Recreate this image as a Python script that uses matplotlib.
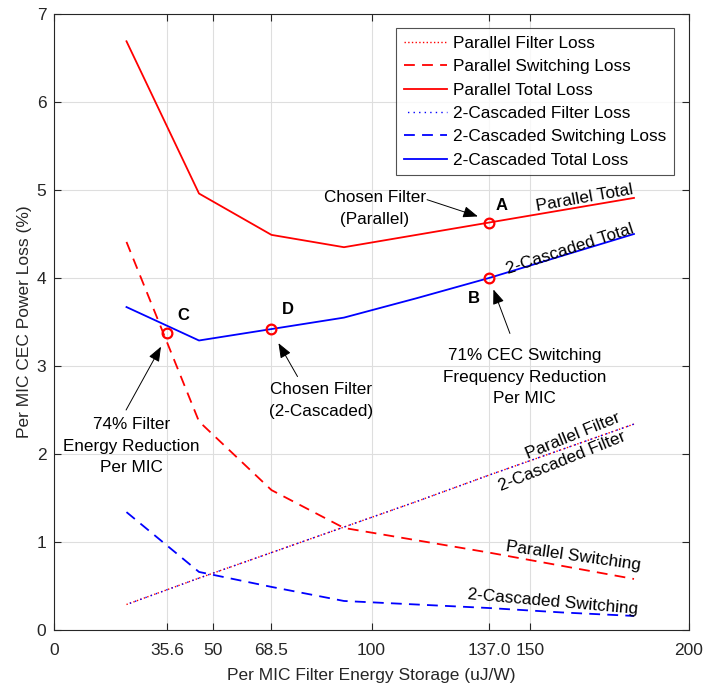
import matplotlib
matplotlib.use("Agg")
import matplotlib.pyplot as plt

plt.rcParams['font.family'] = ['Liberation Sans', 'DejaVu Sans']

# Filter energy storage per MIC (uJ/W)
energy = [22.83, 45.67, 68.5, 91.33, 114.17, 137.0, 159.83, 182.67]

par_filter = [0.29, 0.59, 0.88, 1.17, 1.46, 1.76, 2.05, 2.34]
par_switch = [4.41, 2.37, 1.59, 1.16, 1.02, 0.88, 0.73, 0.58]
par_total = [6.69, 4.96, 4.49, 4.35, 4.49, 4.63, 4.77, 4.91]

cas_filter = [0.29, 0.59, 0.88, 1.17, 1.46, 1.76, 2.05, 2.34]
cas_switch = [1.34, 0.66, 0.49, 0.33, 0.29, 0.25, 0.20, 0.16]
cas_total = [3.67, 3.29, 3.42, 3.55, 3.77, 4.00, 4.25, 4.50]

xticks = [0, 35.6, 50, 68.5, 100, 137.0, 150, 200]
xticklabels = ['0', '35.6', '50', '68.5', '100', '137.0', '150', '200']
yticks = [0, 1, 2, 3, 4, 5, 6, 7]

# Highlighted design points
pt_labels = ['A', 'B', 'C', 'D']
pt_x = [137.0, 137.0, 35.6, 68.5]
pt_y = [4.63, 4.00, 3.38, 3.42]

fig = plt.figure(figsize=(7.04, 6.86), dpi=100)
ax = fig.add_axes([0.0767, 0.0816, 0.902, 0.898])

lw = 1.3
ax.plot(energy, par_filter, color='red', ls=':', lw=1.0, label='Parallel Filter Loss')
ax.plot(energy, par_switch, color='red', ls=(0, (6, 4)), lw=lw, label='Parallel Switching Loss')
ax.plot(energy, par_total, color='red', ls='-', lw=lw, label='Parallel Total Loss')
ax.plot(energy, cas_filter, color='blue', ls=(1.5, (1, 3)), lw=1.0, label='2-Cascaded Filter Loss')
ax.plot(energy, cas_switch, color='blue', ls=(0, (6, 4)), lw=lw, label='2-Cascaded Switching Loss')
ax.plot(energy, cas_total, color='blue', ls='-', lw=lw, label='2-Cascaded Total Loss')

ax.plot(pt_x, pt_y, ls='none', marker='o', ms=7, mfc='none', mec='red', mew=1.6, zorder=5)

ax.set_xlim(0, 200)
ax.set_ylim(0, 7)
ax.set_xticks(xticks)
ax.set_xticklabels(xticklabels)
ax.set_yticks(yticks)
ax.tick_params(direction='in', top=True, right=True, labelsize=12.5,
               colors='#262626', length=5, width=0.8)
ax.tick_params(axis='x', pad=9.5)
ax.tick_params(axis='y', pad=5.5)
for s in ax.spines.values():
    s.set_color('#262626')
    s.set_linewidth(0.8)
ax.grid(True, color='#dedede', lw=0.8)
ax.set_axisbelow(True)
ax.set_xlabel('Per MIC Filter Energy Storage (uJ/W)', fontsize=12.5, color='#262626',
              labelpad=7)
ax.set_ylabel('Per MIC CEC Power Loss (%)', fontsize=12.5, color='#262626', labelpad=3)

leg = ax.legend(loc='upper right', bbox_to_anchor=(0.976, 0.977), borderaxespad=0,
                fontsize=12.4, frameon=True, fancybox=False, edgecolor='#262626',
                handlelength=2.5, borderpad=0.45, labelspacing=0.48, handletextpad=0.35)
leg.get_frame().set_linewidth(0.8)

# Point letters
letter_off = {'A': (9, 12), 'B': (-11, -15), 'C': (12, 12), 'D': (12, 14)}
for lab, x, y in zip(pt_labels, pt_x, pt_y):
    dx, dy = letter_off[lab]
    ax.annotate(lab, (x, y), xytext=(dx, dy), textcoords='offset points',
                ha='center', va='center', fontsize=12, fontweight='bold')

arrow = dict(arrowstyle='-|>,head_length=0.9,head_width=0.35', color='black',
             lw=0.7, shrinkA=0, shrinkB=0)
tk = dict(fontsize=12.3, ha='center', va='center', linespacing=1.55)

# Callout texts
ax.text(101.1, 4.79, 'Chosen Filter\n(Parallel)', **tk)
ax.text(148.3, 2.875, '71% CEC Switching\nFrequency Reduction\nPer MIC', **tk)
ax.text(24.3, 2.09, '74% Filter\nEnergy Reduction\nPer MIC', **tk)
ax.text(84.1, 2.61, 'Chosen Filter\n(2-Cascaded)', **tk)

# Callout arrows (tail -> tip)
arrows = [
    ((117.5, 4.89), (133.5, 4.70)),
    ((143.6, 3.37), (138.4, 3.87)),
    ((22.7, 2.50), (33.7, 3.22)),
    ((76.7, 2.88), (70.7, 3.26)),
]
for tail, tip in arrows:
    ax.annotate('', xy=tip, xytext=tail, arrowprops=arrow)

# Curve names drawn along the lines
curve_txt = [
    ('Parallel Total', 167.0, 4.91, 10),
    ('2-Cascaded Total', 162.5, 4.33, 18),
    ('Parallel Filter', 163.5, 2.20, 22),
    ('2-Cascaded Filter', 160.0, 1.92, 22),
    ('Parallel Switching', 163.5, 0.84, -8),
    ('2-Cascaded Switching', 157.0, 0.32, -5),
]
for t, x, y, r in curve_txt:
    ax.text(x, y, t, rotation=r, ha='center', va='center', fontsize=12.3,
            rotation_mode='anchor')

fig.savefig('out.png', dpi=100)
